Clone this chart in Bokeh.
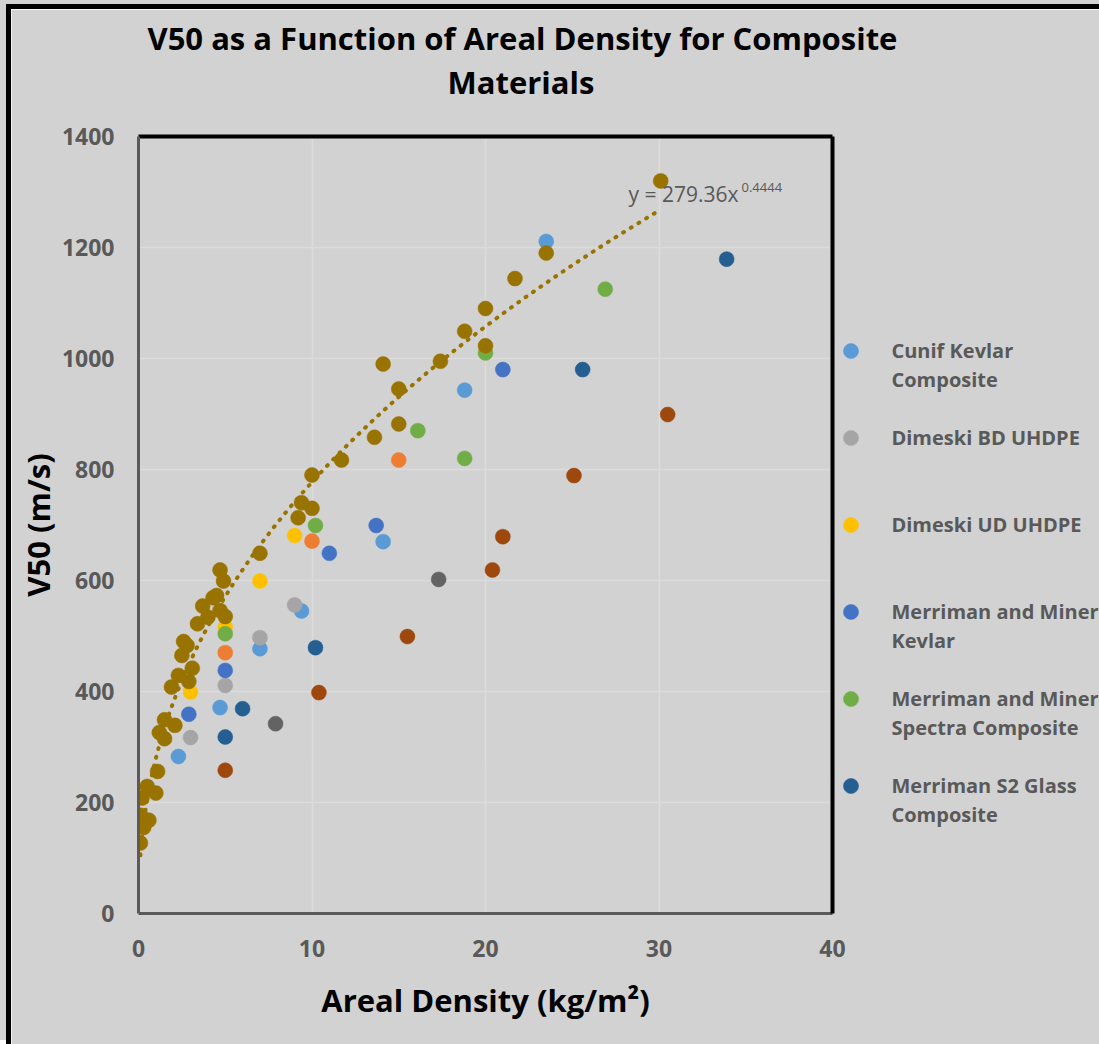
from bokeh.plotting import figure
from bokeh.models import (Range1d, FixedTicker, LinearAxis, Label, Legend,
                          LegendItem, Title)
from bokeh.core.properties import value
from bokeh.embed import file_html
from bokeh.resources import INLINE
import numpy as np

# ---------------- data ----------------
cunif_x = [23.5, 18.8, 14.1, 9.4, 7.0, 4.7, 2.3]
cunif_y = [1211, 943, 670, 545, 477, 371, 283]

dim_bd_x = [9.0, 7.0, 5.0, 3.0]
dim_bd_y = [556, 497, 411, 317]

dim_ud_x = [9.0, 7.0, 5.0, 3.0]
dim_ud_y = [681, 599, 516, 399]

mm_kev_x = [21.0, 13.7, 11.0, 5.0, 2.9]
mm_kev_y = [980, 699, 649, 438, 359]

mm_spec_x = [26.9, 20.0, 16.1, 18.8, 10.2, 5.0]
mm_spec_y = [1125, 1010, 870, 820, 699, 504]

s2_x = [33.9, 25.6, 10.2, 6.0, 5.0]
s2_y = [1179, 980, 479, 369, 318]

orange_x = [15.0, 10.0, 5.0]
orange_y = [817, 671, 470]

dgray_x = [17.3, 7.9]
dgray_y = [602, 342]

brown_x = [30.5, 25.1, 21.0, 20.4, 15.5, 10.4, 5.0]
brown_y = [899, 789, 679, 619, 499, 398, 258]

all_x = [0.11, 0.3, 0.6, 0.12, 0.2, 1.0, 0.5, 1.1, 1.5, 1.2, 2.1, 1.5, 1.9, 2.9,
         2.3, 3.1, 2.5, 2.8, 2.6, 3.4, 4.0, 5.0, 4.7, 3.7, 4.3, 4.5, 4.9, 4.7,
         7.0, 9.2, 10.0, 9.4, 10.0, 11.7, 13.6, 15.0, 15.0, 14.1, 17.4, 20.0,
         18.8, 20.0, 21.7, 23.5, 30.1]
all_y = [127, 155, 168, 177, 208, 217, 229, 256, 315, 326, 339, 349, 408, 418,
         429, 442, 465, 483, 490, 522, 534, 535, 546, 554, 569, 573, 599, 619,
         649, 713, 730, 740, 790, 817, 858, 882, 945, 990, 995, 1023,
         1049, 1090, 1144, 1190, 1320]

# power trendline shown on the chart: y = 279.36 x^0.4444
fit_a = 279.36
fit_b = 0.4444

x_ticks = [0, 10, 20, 30, 40]
y_ticks = [0, 200, 400, 600, 800, 1000, 1200, 1400]

legend_lines = [
    ("Cunif Kevlar", "Composite"),
    ("Dimeski BD UHDPE", None),
    ("Dimeski UD UHDPE", None),
    ("Merriman and Miner", "Kevlar"),
    ("Merriman and Miner", "Spectra Composite"),
    ("Merriman S2 Glass", "Composite"),
]

# ---------------- layout / styling ----------------
BG = "#d2d2d2"
GRID = "#dcdcdc"
TXT = "#595959"
FONT = "Open Sans"
GOLD = "#997300"

WIN_W, WIN_H = 1099, 1044
OX, OY = 11, 9                      # outer frame: 6px margin + 5px border
FL, FT, FW, FH = 138, 136, 694, 777  # plot frame, window coordinates
FB = FT + FH
CW, CH = WIN_W - OX, WIN_H - OY


def fx(cx):   # window x -> frame screen units
    return cx - FL


def fy(cy):   # window y -> frame screen units (upwards from frame bottom)
    return FB - cy


p = figure(frame_width=FW, frame_height=FH,
           min_border_left=FL - OX, min_border_top=FT - OY,
           min_border_right=CW - (FL - OX) - FW,
           min_border_bottom=CH - (FT - OY) - FH,
           x_range=Range1d(0, 40), y_range=Range1d(0, 1400),
           output_backend="svg", toolbar_location=None,
           background_fill_color=BG, border_fill_color=BG,
           outline_line_color=None)
p.margin = (4, 0, 0, 6)
p.styles = {"border-left": "5px solid black", "border-top": "5px solid black",
            "box-shadow": "-6px -4px 0 0 #d2d2d2"}

# ---------------- axes ----------------
for ax, ticks in ((p.xaxis[0], x_ticks), (p.yaxis[0], y_ticks)):
    ax.ticker = FixedTicker(ticks=ticks)
    ax.major_tick_out = 0
    ax.major_tick_in = 0
    ax.minor_tick_out = 0
    ax.minor_tick_in = 0
    ax.axis_line_color = "#5a5a5a"
    ax.axis_line_width = 3
    ax.major_label_text_font = FONT
    ax.major_label_text_font_style = "bold"
    ax.major_label_text_font_size = "23px"
    ax.major_label_text_color = TXT
    ax.axis_label_text_font = FONT
    ax.axis_label_text_font_style = "bold"
    ax.axis_label_text_font_size = "31px"
    ax.axis_label_text_color = "black"

p.xaxis[0].axis_label = "Areal Density (kg/m²)"
p.yaxis[0].axis_label = "V50 (m/s)"
p.xaxis[0].major_label_standoff = 26
p.yaxis[0].major_label_standoff = 24
p.xaxis[0].axis_label_standoff = 19
p.yaxis[0].axis_label_standoff = 0

for side in ("above", "right"):
    a = LinearAxis(ticker=FixedTicker(ticks=[]), axis_line_color="black",
                   axis_line_width=4, major_tick_out=0, major_tick_in=0,
                   minor_tick_out=0, minor_tick_in=0, major_label_standoff=0,
                   major_label_text_font_size="0px")
    p.add_layout(a, side)

p.xgrid.grid_line_color = GRID
p.ygrid.grid_line_color = GRID
p.xgrid.grid_line_width = 1.5
p.ygrid.grid_line_width = 1.5

# ---------------- title (stacked above the frame) ----------------
p.add_layout(Title(text=" ", text_font_size="10px", standoff=21), "above")
p.add_layout(Title(text="Materials", align="left", offset=447 - FL,
                   text_font=FONT, text_font_style="bold", text_font_size="31px",
                   text_color="black", standoff=0), "above")
p.add_layout(Title(text="V50 as a Function of Areal Density for Composite",
                   align="left", offset=147 - FL,
                   text_font=FONT, text_font_style="bold", text_font_size="31px",
                   text_color="black", standoff=0), "above")

# ---------------- series ----------------
SZ = 15


def dots(xs, ys, col):
    return p.ellipse(x=xs, y=ys, width=SZ, height=SZ, width_units="screen",
                     height_units="screen", fill_color=col, line_color=col,
                     line_width=0.5)


series = [
    (cunif_x, cunif_y, "#5b9bd5"),
    (dim_bd_x, dim_bd_y, "#a5a5a5"),
    (dim_ud_x, dim_ud_y, "#ffc000"),
    (mm_kev_x, mm_kev_y, "#4472c4"),
    (mm_spec_x, mm_spec_y, "#70ad47"),
    (s2_x, s2_y, "#255e91"),
]
legend_renderers = [dots(xs, ys, col) for xs, ys, col in series]
dots(orange_x, orange_y, "#ed7d31")
dots(dgray_x, dgray_y, "#636363")
dots(brown_x, brown_y, "#9e480e")
dots(all_x, all_y, GOLD)

tx = np.linspace(min(all_x), max(all_x), 400)
p.line(tx, fit_a * tx ** fit_b, line_color=GOLD, line_width=4,
       line_dash="1 8", line_cap="round")

# ---------------- legend (right side panel) ----------------
blank = p.line(x=[], y=[], line_alpha=0)
slots = [0, 3, 6, 9, 12, 15]   # rows of 29px; 3 rows per entry
n_rows = 17
items = [LegendItem(label=value(" "), renderers=[blank]) for _ in range(n_rows)]
for (first, second), r, s in zip(legend_lines, legend_renderers, slots):
    items[s] = LegendItem(label=value(first), renderers=[r])
    if second:
        items[s + 1] = LegendItem(label=value(second), renderers=[blank])
ROW = 29
top_y = 350 - ROW / 2
LEG_DX = -243   # side-panel origin correction
legend = Legend(items=items,
                location=(851 - 9.5 - 832 + LEG_DX, FB - (top_y + n_rows * ROW)),
                orientation="vertical",
                glyph_width=19, glyph_height=19, label_height=ROW,
                spacing=0, padding=0, margin=0, label_standoff=31,
                label_text_font=FONT, label_text_font_style="bold",
                label_text_font_size="20px", label_text_color=TXT,
                background_fill_alpha=0, border_line_alpha=0)
p.add_layout(legend, "right")

# ---------------- trendline equation ----------------
p.add_layout(Label(x=fx(628), y=fy(193), x_units="screen", y_units="screen",
                   text="y = 279.36x", text_font=FONT, text_font_size="21px",
                   text_color=TXT, text_align="left", text_baseline="middle"))
p.add_layout(Label(x=fx(741), y=fy(187), x_units="screen", y_units="screen",
                   text="0.4444", text_font=FONT, text_font_size="13px",
                   text_color=TXT, text_align="left", text_baseline="middle"))

open("out.html", "w").write(file_html(p, INLINE))
